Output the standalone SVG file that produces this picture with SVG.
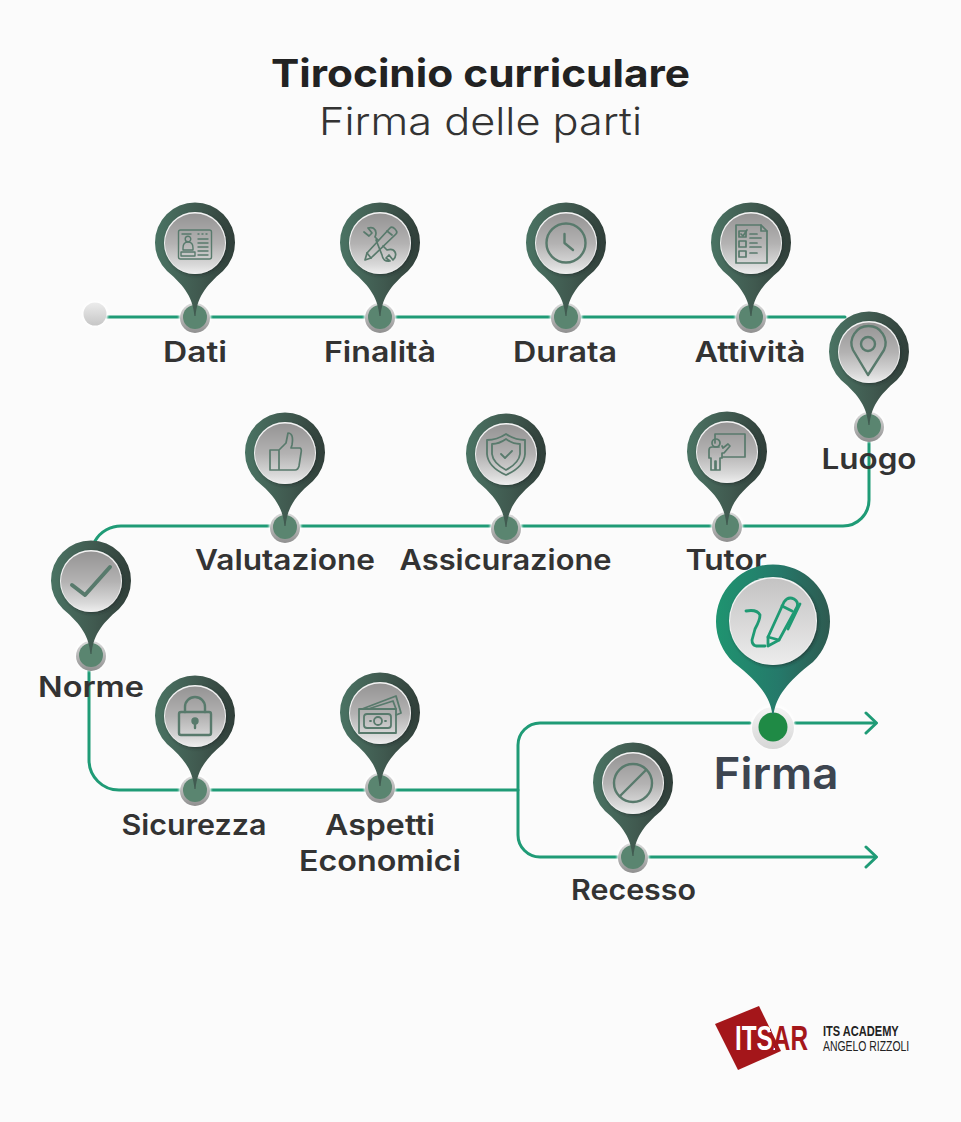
<svg xmlns="http://www.w3.org/2000/svg" width="961" height="1122" viewBox="0 0 961 1122">
<style>
text{font-family:"Inter","Open Sans","Liberation Sans",sans-serif}
.t{font-size:38.5px;fill:#222;text-anchor:middle}
.l{font-size:28px;font-weight:600;fill:#333;text-anchor:middle}
.c{fill:none;stroke:#1f9b76;stroke-width:3;stroke-linecap:round;stroke-linejoin:round}
.i{fill:none;stroke:#587a6c;stroke-width:2;stroke-linejoin:round;stroke-linecap:round}
.g{fill:none;stroke:#1f9a73;stroke-width:2.8;stroke-linejoin:round;stroke-linecap:round}
.lg{font-family:"Liberation Sans",Arial,sans-serif;text-anchor:start}
</style>
<defs>
<linearGradient id="pg" x1="0" y1="0" x2="1" y2="0"><stop offset="0" stop-color="#4a7363"/><stop offset=".55" stop-color="#40594f"/><stop offset="1" stop-color="#303e39"/></linearGradient>
<linearGradient id="pf" x1="0" y1="0" x2="1" y2="0"><stop offset="0" stop-color="#1f9470"/><stop offset=".55" stop-color="#25796a"/><stop offset="1" stop-color="#2e5a50"/></linearGradient>
<linearGradient id="ig" x1="0" y1="0" x2="0" y2="1"><stop offset="0" stop-color="#959494"/><stop offset=".5" stop-color="#b3b2b2"/><stop offset=".85" stop-color="#d8d8d8"/><stop offset="1" stop-color="#ededed"/></linearGradient>
<linearGradient id="if" x1="0" y1="0" x2="0" y2="1"><stop offset="0" stop-color="#c4c3c3"/><stop offset="1" stop-color="#ececec"/></linearGradient>
<linearGradient id="hg" x1="0" y1="0" x2="0" y2="1"><stop offset="0" stop-color="#dcdcdc"/><stop offset="1" stop-color="#8f8f8f"/></linearGradient>
<linearGradient id="hf" x1="0" y1="0" x2="0" y2="1"><stop offset="0" stop-color="#f4f4f4"/><stop offset="1" stop-color="#d6d6d6"/></linearGradient>
<linearGradient id="sg" x1="0" y1="0" x2="0" y2="1"><stop offset="0" stop-color="#ececec"/><stop offset="1" stop-color="#c6c6c6"/></linearGradient>
<linearGradient id="lt" gradientUnits="userSpaceOnUse" x1="50" y1="-22" x2="115" y2="-44"><stop offset="0" stop-color="#fff"/><stop offset="0" stop-color="#a4161a"/></linearGradient>
<filter id="b" x="-50%" y="-50%" width="200%" height="200%"><feGaussianBlur stdDeviation=".9"/></filter>
<filter id="s" x="-20%" y="-20%" width="140%" height="140%"><feDropShadow dx="1.5" dy="1.5" stdDeviation="1.5" flood-color="#1c2a26" flood-opacity=".55"/></filter>
<g id="dot">
<circle r="16" fill="#fff" filter="url(#b)"/>
<circle cy="1" r="15" fill="url(#hg)"/>
<circle r="12" fill="#5a8570"/>
</g>
<g id="pin">
<use href="#dot"/>
<path d="M-.6-1C-2-18-9-30-28-46A40 40 0 1 1 28-46C9-30 2-18 .6-1Z" fill="url(#pg)"/>
<circle cy="-74" r="31" fill="#f4f4f4" filter="url(#s)"/>
<circle cy="-73.500" r="30" fill="url(#ig)"/>
</g>
</defs>
<rect width="961" height="1122" fill="#fbfbfb"/>
<text class="t" x="480.500" y="87" font-weight="700" textLength="419" lengthAdjust="spacingAndGlyphs">Tirocinio curriculare</text>
<text class="t" x="480.500" y="135" font-weight="300" style="fill:#333" textLength="323" lengthAdjust="spacingAndGlyphs">Firma delle parti</text>

<g id="connectors">
<path class="c" d="M107 317H845"/>
<path class="c" d="M869 440V500A26 26 0 0 1 843 526H122A30 30 0 0 0 95 541"/>
<path class="c" d="M89 668V760A30 30 0 0 0 119 790H518"/>
<path class="c" d="M750 723H540A22 22 0 0 0 518 745V835A22 22 0 0 0 540 857H875"/>
<path class="c" d="M795 723H875"/>
<path class="c" d="M866 713L876.500 723L866 733M866 847L876.500 857L866 867"/>
</g>

<g id="start"><circle cx="95" cy="314" r="13" fill="#fff" filter="url(#b)"/><circle cx="95" cy="314" r="11.500" fill="url(#sg)"/></g>

<g id="n-dati" transform="translate(195 317)"><use href="#pin"/>
<g class="i" transform="translate(0 -74)" style="stroke-width:1.4"><rect x="-16.500" y="-13" width="33" height="29" rx="2"/><path d="M-13-9H-4M3-9H4M7-9H8M11-9H12M3-4H13M3 0H13M3 4H13M3 8H13M3 12H13"/><circle cx="-7" cy="-4" r="2.800"/><path d="M-12 5Q-12-1-7-1Q-2-1-2 5V7H-12ZM-14 9H0V13H-14Z"/></g>
<text class="l" y="45" textLength="64" lengthAdjust="spacingAndGlyphs">Dati</text></g>

<g id="n-finalita" transform="translate(380 317)"><use href="#pin"/>
<g class="i" transform="translate(0 -74)" style="stroke-width:1.7"><path d="M-15 17L-13 10L10-15Q12-17 15-14Q18-11 16-9L-9 15Z"/><path d="M-13 10L-9 15M7-12L12-8"/><path d="M-16-11L-11-7L-8-10L-12-15Q-5-17-4-10Q-4-8-5-6L-2-3M3 3L7 7Q13 5 15 9Q17 13 13 17L9 12L6 15L10 18Q3 19 2 12L-4-3"/></g>
<text class="l" y="45" textLength="112" lengthAdjust="spacingAndGlyphs">Finalità</text></g>

<g id="n-durata" transform="translate(566 317)"><use href="#pin"/>
<g class="i" transform="translate(0 -74)" style="stroke-width:2.400"><circle r="19.500"/><path d="M-1.500-9V0L7 7"/></g>
<text class="l" x="-1" y="45" textLength="104" lengthAdjust="spacingAndGlyphs">Durata</text></g>

<g id="n-attivita" transform="translate(751 317)"><use href="#pin"/>
<g class="i" transform="translate(0 -74)" style="stroke-width:1.700"><path d="M-15-18H10L16-12V20H-15Z"/><path d="M10-18V-12H16"/><rect x="-12" y="-12" width="7" height="6"/><rect x="-12" y="-2" width="7" height="6"/><rect x="-12" y="8" width="7" height="6"/><path d="M-10-9L-8-7L-4-13M-1-9H6M-1-5H10M-1 0H6M-1 4H10M-1 10H6"/></g>
<text class="l" x="-1" y="45" textLength="111" lengthAdjust="spacingAndGlyphs">Attività</text></g>

<g id="n-luogo" transform="translate(869 426)"><use href="#pin"/>
<g class="i" transform="translate(0 -74)" style="stroke-width:2.400"><path d="M-1 23L-16-2A17 17 0 1 1 15-2Z"/><circle cx="-1" cy="-8" r="7"/></g>
<text class="l" y="43" textLength="95" lengthAdjust="spacingAndGlyphs">Luogo</text></g>

<g id="n-tutor" transform="translate(727 526)"><use href="#pin"/>
<g class="i" transform="translate(0 -73)" style="stroke-width:1.700"><path d="M-12-10V-19H18V4H-4"/><circle cx="-11" cy="-10" r="4"/><path d="M-5-7L-4-5L1-9L3-7L-3 0H-5V5H-7V17H-11V8H-12V17H-16V5H-18V-3Q-18-6-15-6H-8"/></g>
<text class="l" x="-1" y="44" textLength="81" lengthAdjust="spacingAndGlyphs">Tutor</text></g>

<g id="n-assicurazione" transform="translate(506 528)"><use href="#pin"/>
<g class="i" transform="translate(0 -74)" style="stroke-width:1.800"><path d="M0-20Q9-14 19-14V0Q18 13 0 21Q-18 13-19 0V-14Q-9-14 0-20Z"/><path d="M0-15Q7-10 14-10V0Q13 9 0 16Q-13 9-14 0V-10Q-7-10 0-15Z"/><path d="M-5 0L-1 4L6-3"/></g>
<text class="l" x="-.5" y="42" textLength="212" lengthAdjust="spacingAndGlyphs">Assicurazione</text></g>

<g id="n-valutazione" transform="translate(285 527)"><use href="#pin"/>
<g class="i" transform="translate(0 -73)" style="stroke-width:1.700"><path d="M-15-4H-6V16H-15ZM-6-4L1-11L3-21Q9-21 7-9L6-6H15Q17-5 16-1L14 12Q13 16 10 16H-6"/></g>
<text class="l" y="43" textLength="180" lengthAdjust="spacingAndGlyphs">Valutazione</text></g>

<g id="n-norme" transform="translate(91 655)"><use href="#pin"/>
<path class="i" transform="translate(0 -75)" style="stroke-width:4" d="M-19 5L-6 15L19-13"/>
<text class="l" y="42" textLength="106" lengthAdjust="spacingAndGlyphs">Norme</text></g>

<g id="n-sicurezza" transform="translate(195 790)"><use href="#pin"/>
<g class="i" transform="translate(0 -74)" style="stroke-width:2.400"><rect x="-16" y="-4" width="32" height="23" rx="2"/><path d="M-10-4V-9A10 10 0 0 1 10-9V-4"/><circle cy="5" r="2.500" style="fill:#587a6c"/><path d="M0 6V12"/></g>
<text class="l" x="-1" y="45" textLength="145" lengthAdjust="spacingAndGlyphs">Sicurezza</text></g>

<g id="n-aspetti" transform="translate(380 787)"><use href="#pin"/>
<g class="i" transform="translate(0 -71)" style="stroke-width:1.800"><rect x="-21" y="-7" width="37" height="24"/><rect x="-16" y="-2" width="27" height="14" rx="3"/><circle cx="-2" cy="5" r="4"/><path d="M-10 5H-9M5 5H6M-18-7L16-20L21-3L16-1"/><path d="M-12-7L13-15L16-7"/></g>
<text class="l" y="48" textLength="110" lengthAdjust="spacingAndGlyphs">Aspetti</text>
<text class="l" y="84" textLength="162" lengthAdjust="spacingAndGlyphs">Economici</text></g>

<g id="n-recesso" transform="translate(633 857)"><use href="#pin"/>
<g class="i" transform="translate(0 -74)" style="stroke-width:2.400"><circle r="19"/><path d="M-13 13L13-13"/></g>
<text class="l" x=".5" y="43" textLength="125" lengthAdjust="spacingAndGlyphs">Recesso</text></g>

<g id="n-firma" transform="translate(773 727)">
<circle r="22" fill="#fff" filter="url(#b)"/><circle cy="1" r="21" fill="url(#hf)"/><circle r="14.500" fill="#1f8a45"/>
<path d="M-.7-13C-3-30-14-45-40-65A57 57 0 1 1 40-65C14-45 3-30 .7-13Z" fill="url(#pf)"/>
<circle cy="-106" r="44" fill="#f4f4f4" filter="url(#s)"/>
<circle cy="-105.500" r="43" fill="url(#if)"/>
<g class="g" transform="translate(0 -106)"><path d="M-5 25V16L11-19Q15-25 21-22Q26-19 24-14L6 19Z"/><path d="M-5 16L6 19M9-15L19-10M27-17L15 8"/><path d="M-27-10Q-16-12-13-6Q-13-1-18 8L-21 19Q-21 24-17 25L-8 25"/></g>
<text y="62" x="3" font-size="44" font-weight="600" fill="#3d4550" text-anchor="middle" textLength="125" lengthAdjust="spacingAndGlyphs">Firma</text></g>

<g id="logo">
<path d="M715 1024L759 1006L781 1051L738 1070Z" fill="#a4161a"/>
<text class="lg" transform="translate(735 1050) scale(.695 1)" font-size="35" font-weight="700" fill="url(#lt)">ITSAR</text>
<text class="lg" transform="translate(823 1036) scale(.79 1)" font-size="14" font-weight="700" fill="#222">ITS ACADEMY</text>
<text class="lg" transform="translate(823 1051) scale(.745 1)" font-size="14" fill="#222">ANGELO RIZZOLI</text>
</g>
</svg>
